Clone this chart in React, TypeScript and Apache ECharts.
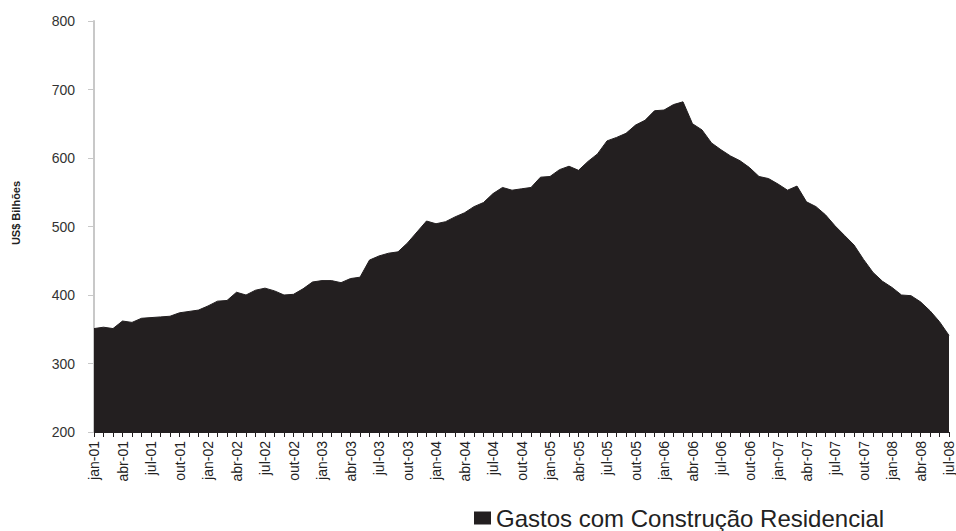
import React, { useEffect, useRef } from "react";
import * as echarts from "echarts";

const monthAbbr = ["jan", "fev", "mar", "abr", "mai", "jun", "jul", "ago", "set", "out", "nov", "dez"];
const years = ["01", "02", "03", "04", "05", "06", "07", "08"];

const categories: string[] = [];
for (const y of years) {
  for (const m of monthAbbr) {
    categories.push(`${m}-${y}`);
    if (y === "08" && m === "jul") break;
  }
}

const seriesName = "Gastos com Construção Residencial";
const spending = [
  351, 353, 351, 362, 360, 366, 367, 368, 369, 374, 376, 378,
  384, 391, 392, 404, 400, 407, 410, 406, 400, 401, 409, 419,
  421, 421, 418, 424, 426, 451, 457, 461, 463, 476, 492, 508,
  504, 507, 514, 520, 529, 535, 548, 557, 553, 555, 557, 572,
  573, 583, 588, 582, 595, 606, 625, 630, 636, 648, 655, 669,
  670, 678, 682, 650, 641, 622, 612, 603, 596, 586, 573, 570,
  562, 553, 559, 536, 529, 517, 501, 487, 473, 452, 433, 420,
  411, 400, 399, 390, 377, 361, 341,
];

const yTicks = [200, 300, 400, 500, 600, 700, 800];
const yAxisTitle = "US$ Bilhões";

export default function App() {
  const ref = useRef<HTMLDivElement>(null);
  useEffect(() => {
    if (!ref.current) return;
    const chart = echarts.init(ref.current, null, { renderer: "svg" });
    chart.setOption({
      animation: false,
      backgroundColor: "#ffffff",
      textStyle: { fontFamily: "Arial, 'Liberation Sans', sans-serif" },
      grid: { left: 94, right: 2, top: 21, bottom: 99, containLabel: false },
      legend: {
        data: [seriesName],
        left: 474,
        top: 506,
        padding: 0,
        icon: "rect",
        itemWidth: 17,
        itemHeight: 13,
        textStyle: { fontSize: 24, color: "#222222", lineHeight: 24 },
      },
      xAxis: {
        type: "category",
        data: categories,
        boundaryGap: false,
        axisLine: { show: true, lineStyle: { color: "#231f20", width: 1 } },
        axisTick: { show: true, interval: 0, length: 5, lineStyle: { color: "#231f20" } },
        axisLabel: {
          interval: 2,
          rotate: 90,
          margin: 9,
          fontSize: 14,
          color: "#222222",
        },
        splitLine: { show: false },
      },
      yAxis: {
        type: "value",
        min: yTicks[0],
        max: yTicks[yTicks.length - 1],
        interval: 100,
        axisLine: { show: true, lineStyle: { color: "#c8c8c8", width: 2 } },
        axisTick: { show: true, length: 6, lineStyle: { color: "#c8c8c8" } },
        axisLabel: { fontSize: 14, color: "#333333", margin: 19 },
        splitLine: { show: false },
      },
      graphic: [
        {
          type: "text",
          x: 16,
          y: 213,
          rotation: Math.PI / 2,
          style: {
            text: yAxisTitle,
            fontSize: 11,
            fontWeight: "bold",
            fill: "#222222",
            textAlign: "center",
            textVerticalAlign: "middle",
            fontFamily: "Arial, 'Liberation Sans', sans-serif",
          },
        },
      ],
      series: [
        {
          name: seriesName,
          type: "line",
          data: spending,
          symbol: "none",
          lineStyle: { color: "#231f20", width: 1 },
          itemStyle: { color: "#231f20" },
          areaStyle: { color: "#231f20", opacity: 1 },
        },
      ],
    });
    return () => chart.dispose();
  }, []);
  return (
    <div
      ref={ref}
      style={{ position: "fixed", left: 0, top: 0, width: 956, height: 531, background: "#fff" }}
    />
  );
}
